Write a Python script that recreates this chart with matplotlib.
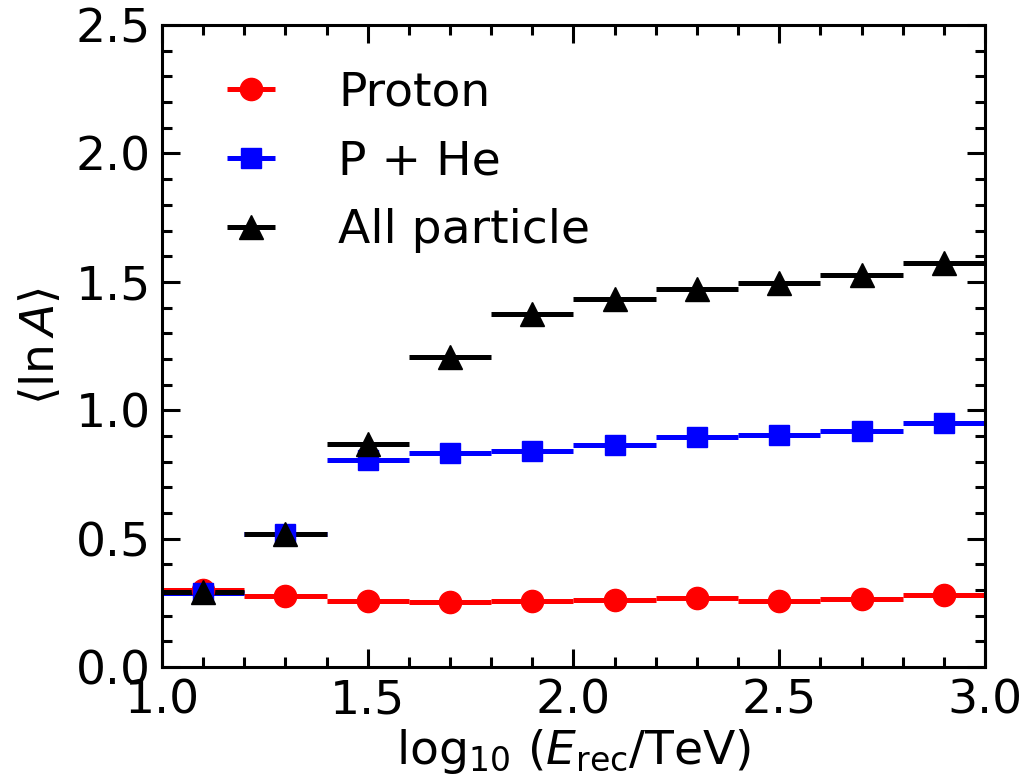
import matplotlib
matplotlib.use("Agg")
import matplotlib.pyplot as plt
from matplotlib.ticker import MultipleLocator

x = [1.1, 1.3, 1.5, 1.7, 1.9, 2.1, 2.3, 2.5, 2.7, 2.9]
xerr = [0.1] * 10
proton = [0.300, 0.275, 0.258, 0.254, 0.258, 0.260, 0.270, 0.257, 0.267, 0.280]
p_he = [0.290, 0.520, 0.805, 0.832, 0.842, 0.863, 0.896, 0.905, 0.920, 0.951]
all_particle = [0.291, 0.519, 0.867, 1.207, 1.375, 1.433, 1.474, 1.495, 1.526, 1.574]

plt.rcParams['font.family'] = ['DejaVu Sans']
plt.rcParams['mathtext.fontset'] = 'dejavusans'

FS = 34
fig = plt.figure(figsize=(10.25, 7.83), dpi=100)
ax = fig.add_axes([0.158, 0.148, 0.803, 0.820])

lw = 3.6
ax.errorbar(x, proton, xerr=xerr, fmt='o', color='red', ms=16, elinewidth=lw, capsize=0, label='Proton')
ax.errorbar(x, p_he, xerr=xerr, fmt='s', color='blue', ms=14, elinewidth=lw, capsize=0, label='P + He')
ax.errorbar(x, all_particle, xerr=xerr, fmt='^', color='black', ms=17, elinewidth=lw, capsize=0, label='All particle')

ax.set_xlim(1.0, 3.0)
ax.set_ylim(0.0, 2.5)
ax.xaxis.set_major_locator(MultipleLocator(0.5))
ax.xaxis.set_minor_locator(MultipleLocator(0.1))
ax.yaxis.set_major_locator(MultipleLocator(0.5))
ax.yaxis.set_minor_locator(MultipleLocator(0.1))
ax.tick_params(which='both', direction='in', top=True, right=True, width=2.2)
ax.tick_params(which='major', length=13, labelsize=FS, pad=8)
ax.tick_params(which='minor', length=7)
for s in ax.spines.values():
    s.set_linewidth(2.2)

ax.set_xlabel(r'$\log_{10}\,(E_{\rm rec}/{\rm TeV})$', fontsize=FS, labelpad=3)
ax.set_ylabel(r'$\langle \ln A \rangle$', fontsize=FS, labelpad=8)

ax.legend(loc='upper left', frameon=False, fontsize=FS, handlelength=2.0,
          handletextpad=0.84, labelspacing=0.5, borderpad=0.4, borderaxespad=0.0,
          bbox_to_anchor=(0.028, 0.958))

fig.savefig('out.png', dpi=100)
